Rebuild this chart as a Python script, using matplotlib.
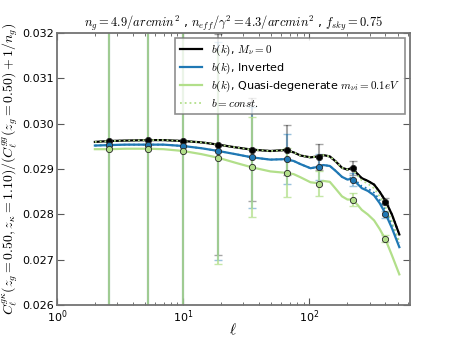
import numpy as np
import matplotlib
matplotlib.use("Agg")
import matplotlib.pyplot as plt

plt.rcParams['mathtext.fontset'] = 'cm'
plt.rcParams['font.family'] = 'DejaVu Sans'

# binned multipoles and measured ratios
ell_bins = [2.6, 5.3, 10, 19, 35, 66, 120, 220, 400]
pts_massless = [0.02962, 0.02964, 0.02962, 0.02954, 0.02943, 0.02942, 0.02927, 0.02902, 0.02828]
pts_inverted = [0.02953, 0.02954, 0.02951, 0.02940, 0.02926, 0.02922, 0.02905, 0.02877, 0.02800]
pts_quasi = [0.02944, 0.02945, 0.02940, 0.02925, 0.02904, 0.02892, 0.02868, 0.02833, 0.02747]
err_massless = [0.02, 0.01, 0.005, 0.00244, 0.00114, 0.00055, 0.00028, 0.00015, 0.00008]
err_inverted = [0.02, 0.01, 0.005, 0.00241, 0.00112, 0.00055, 0.00028, 0.00015, 0.00008]
err_quasi = [0.02, 0.01, 0.005, 0.00235, 0.00110, 0.00054, 0.00027, 0.00014, 0.00008]

# smooth theory curves
ell = [2.0, 2.6, 3.5, 5.3, 7, 10, 14, 19, 26, 35, 49, 64, 75, 85, 102, 117, 129,
       145, 160, 181, 200, 218, 239, 260, 290, 325, 360, 400, 450, 515]
curve_massless = [0.02960, 0.02962, 0.02963, 0.02964, 0.02964, 0.02962, 0.02959, 0.02954,
                  0.02948, 0.02943, 0.02940, 0.02942, 0.02937, 0.02930, 0.02926, 0.02928,
                  0.02931, 0.02928, 0.02918, 0.02903, 0.02899, 0.02903, 0.02890, 0.02880,
                  0.02874, 0.02866, 0.02850, 0.02830, 0.02800, 0.02756]
curve_inverted = [0.02952, 0.02953, 0.02954, 0.02954, 0.02954, 0.02951, 0.02946, 0.02940,
                  0.02933, 0.02926, 0.02921, 0.02922, 0.02918, 0.02911, 0.02902, 0.02905,
                  0.02909, 0.02907, 0.02897, 0.02883, 0.02877, 0.02879, 0.02868, 0.02858,
                  0.02852, 0.02842, 0.02825, 0.02802, 0.02770, 0.02728]
curve_quasi = [0.02944, 0.02944, 0.02945, 0.02945, 0.02944, 0.02940, 0.02933, 0.02925,
               0.02914, 0.02904, 0.02895, 0.02892, 0.02889, 0.02882, 0.02871, 0.02869,
               0.02874, 0.02872, 0.02858, 0.02840, 0.02833, 0.02833, 0.02822, 0.02810,
               0.02800, 0.02787, 0.02768, 0.02745, 0.02710, 0.02668]
# b = const versions
const_inverted = [0.02952, 0.02953, 0.02954, 0.02954, 0.02954, 0.02951, 0.02946, 0.02940,
                  0.02933, 0.02926, 0.02921, 0.02922, 0.02918, 0.02911, 0.02902, 0.02905,
                  0.02909, 0.02907, 0.02897, 0.02883, 0.02877, 0.02882, 0.02872, 0.02862,
                  0.02857, 0.02848, 0.02832, 0.02810, 0.02779, 0.02737]
const_quasi = [0.02960, 0.02962, 0.02963, 0.02964, 0.02964, 0.02962, 0.02959, 0.02954,
               0.02948, 0.02943, 0.02940, 0.02942, 0.02937, 0.02930, 0.02926, 0.02928,
               0.02931, 0.02928, 0.02918, 0.02903, 0.02899, 0.02900, 0.02887, 0.02875,
               0.02868, 0.02858, 0.02840, 0.02817, 0.02785, 0.02740]

c_black = 'black'
c_blue = '#1f78b4'
c_green = '#b2df8a'

fig = plt.figure(figsize=(4.55, 3.41), dpi=100)
ax = fig.add_axes([0.125, 0.105, 0.775, 0.798])

models = [
    (pts_massless, err_massless, curve_massless, curve_massless, c_black, 0.35, r'$b(k)$, $M_\nu=0$'),
    (pts_inverted, err_inverted, curve_inverted, const_inverted, c_blue, 0.45, r'$b(k)$, Inverted'),
    (pts_quasi, err_quasi, curve_quasi, const_quasi, c_green, 0.75,
     r'$b(k)$, Quasi-degenerate $m_{\nu i}=0.1eV$'),
]
for pts, err, curve, const, col, a, lab in models:
    ax.errorbar(ell_bins, pts, yerr=err, fmt='none', ecolor=col, alpha=a,
                elinewidth=1.5, capsize=3, capthick=1)
for pts, err, curve, const, col, a, lab in models:
    ax.plot(ell, curve, '-', color=col, lw=1.6, label=lab)
for i, (pts, err, curve, const, col, a, lab) in enumerate(models):
    ax.plot(ell, const, ':', color=col, lw=1.3,
            label=r'$b=const.$' if i == 2 else None)
for pts, err, curve, const, col, a, lab in models:
    ax.plot(ell_bins, pts, 'o', mfc=col, mec='0.15', mew=0.6, ms=4.5)

ax.set_xscale('log')
ax.set_xlim(1, 620)
ax.set_ylim(0.026, 0.032)
ax.set_yticks([0.026, 0.027, 0.028, 0.029, 0.030, 0.031, 0.032])
ax.yaxis.set_major_formatter(matplotlib.ticker.FormatStrFormatter('%.3f'))
ax.tick_params(which='both', direction='in', top=True, right=True, labelsize=8, color='0.35')
ax.tick_params(which='major', length=5, pad=2)
ax.tick_params(which='minor', length=2.5)
for s in ax.spines.values():
    s.set_color('0.45')
    s.set_linewidth(1.3)

ax.set_xlabel(r'$\ell$', fontsize=11, labelpad=-2)
ax.set_ylabel(r'$C_\ell^{g\kappa}(z_g=0.50,z_\kappa=1.10)/(C_\ell^{gg}(z_g=0.50)+1/n_g)$', fontsize=10)
ax.yaxis.set_label_coords(-0.105, 0.5)
ax.set_title(r'$n_g=4.9/arcmin^2$ , $n_{eff}/\gamma^2=4.3/arcmin^2$ , $f_{sky}=0.75$',
             fontsize=9, pad=2)

leg = ax.legend(loc='upper right', fontsize=8, handlelength=2.0, fancybox=False,
                borderaxespad=0.4, labelspacing=0.25, borderpad=0.45)
leg.get_frame().set_edgecolor('0.45')
leg.get_frame().set_linewidth(1.2)

fig.savefig('out.png', dpi=100)
